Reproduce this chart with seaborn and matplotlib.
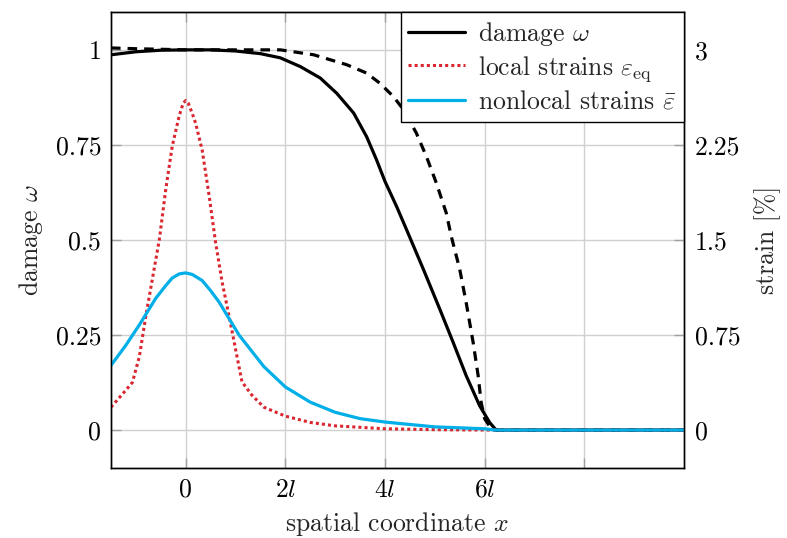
import matplotlib
matplotlib.use('Agg')
import matplotlib.pyplot as plt
import seaborn as sns

# Data (x in units of l)
x_dmg = [-1.5, -1.0, -0.5, 0.0, 0.5, 1.0, 1.5, 1.9, 2.3, 2.7, 3.03, 3.37, 3.63,
         3.83, 4.0, 4.23, 4.43, 4.77, 5.1, 5.37, 5.63, 5.9, 6.1, 6.23, 10.0]
damage = [0.987, 0.995, 0.999, 1.0, 1.0, 0.997, 0.99, 0.979, 0.956, 0.926, 0.886,
          0.834, 0.772, 0.711, 0.654, 0.589, 0.528, 0.423, 0.318, 0.23, 0.143,
          0.064, 0.02, 0.0, 0.0]

x_dmg2 = [-1.5, -1.0, 0.0, 1.0, 1.9, 2.57, 3.23, 3.63, 3.9, 4.17, 4.37, 4.63, 4.83,
          5.03, 5.23, 5.33, 5.5, 5.63, 5.77, 5.87, 5.93, 6.0, 6.1, 6.2, 10.0]
damage2 = [1.005, 1.003, 1.0, 1.0, 1.0, 0.987, 0.961, 0.939, 0.912, 0.877, 0.843,
           0.781, 0.72, 0.65, 0.571, 0.51, 0.423, 0.335, 0.23, 0.143, 0.073, 0.03,
           0.01, 0.0, 0.0]

x_loc = [-1.5, -1.3, -1.07, -0.93, -0.8, -0.67, -0.53, -0.4, -0.27, -0.13, -0.05,
         0.0, 0.05, 0.13, 0.2, 0.33, 0.47, 0.6, 0.73, 0.87, 1.0, 1.13, 1.33, 1.57,
         2.0, 2.5, 3.0, 4.0, 5.0, 6.0, 10.0]
local_strain = [0.18, 0.27, 0.375, 0.58, 0.9, 1.19, 1.5, 1.9, 2.24, 2.48, 2.58,
                2.6, 2.58, 2.5, 2.42, 2.21, 1.85, 1.48, 1.17, 0.9, 0.64, 0.38,
                0.275, 0.18, 0.11, 0.06, 0.033, 0.01, 0.003, 0.0, 0.0]

x_nl = [-1.5, -1.2, -0.93, -0.6, -0.4, -0.27, -0.13, 0.0, 0.13, 0.33, 0.5, 0.67,
        1.07, 1.57, 2.0, 2.5, 3.0, 3.5, 4.0, 5.0, 6.0, 6.2, 10.0]
nonlocal_strain = [0.51, 0.67, 0.83, 1.04, 1.14, 1.2, 1.232, 1.24, 1.228, 1.18,
                   1.1, 1.01, 0.75, 0.5, 0.34, 0.22, 0.14, 0.09, 0.063, 0.025,
                   0.01, 0.0, 0.0]

x_ticks = [0, 2, 4, 6, 8]
x_ticklabels = ['0', '$2l$', '$4l$', '$6l$', '']
y_ticks = [0, 0.25, 0.5, 0.75, 1]
y_ticklabels = ['0', '0.25', '0.5', '0.75', '1']
y2_ticks = [0, 0.75, 1.5, 2.25, 3]
y2_ticklabels = ['0', '0.75', '1.5', '2.25', '3']

sns.set_theme(style="whitegrid")
plt.rcParams.update({
    'font.family': 'serif',
    'font.serif': ['cmr10'],
    'mathtext.fontset': 'cm',
    'axes.formatter.use_mathtext': True,
    'axes.edgecolor': 'black',
    'axes.linewidth': 1.0,
    'grid.color': '#d0d0d0',
    'grid.linewidth': 1.0,
})

fs = 18.5
red = '#d9262f'
cyan = '#00aee8'

fig = plt.figure(figsize=(7.87, 5.38), dpi=100)
ax = fig.add_axes([0.141, 0.130, 0.728, 0.848])

sns.lineplot(x=x_dmg, y=damage, ax=ax, color='black', lw=2.3, label=r'damage $\omega$')
sns.lineplot(x=x_dmg2, y=damage2, ax=ax, color='black', lw=2.3, linestyle=(0, (3.0, 2.2)))
ax.set_xlim(-1.5, 10)
ax.set_ylim(-0.1, 1.1)
ax.set_xticks(x_ticks)
ax.set_xticklabels(x_ticklabels)
ax.set_yticks(y_ticks)
ax.set_yticklabels(y_ticklabels)
ax.set_xlabel(r'spatial coordinate $x$', fontsize=fs, labelpad=6)
ax.set_ylabel(r'damage $\omega$', fontsize=fs, labelpad=8)
ax.tick_params(axis='both', direction='in', length=7, width=1, color='#a0a0a0',
               labelsize=fs, labelcolor='black', top=True, left=True, bottom=True, pad=7)
ax.grid(True)

ax2 = ax.twinx()
sns.lineplot(x=x_loc, y=local_strain, ax=ax2, color=red, lw=2.2, linestyle=(0, (1, 1)),
             label=r'local strains $\varepsilon_{\mathrm{eq}}$')
sns.lineplot(x=x_nl, y=nonlocal_strain, ax=ax2, color=cyan, lw=2.3,
             label=r'nonlocal strains $\bar{\varepsilon}$')
ax2.set_ylim(-0.3, 3.3)
ax2.set_yticks(y2_ticks)
ax2.set_yticklabels(y2_ticklabels)
ax2.set_ylabel('strain [%]', fontsize=fs, labelpad=10)
ax2.tick_params(axis='y', direction='in', length=7, width=1, color='#a0a0a0',
                labelsize=fs, labelcolor='black', right=True, pad=8)
ax2.grid(False)

h1, l1 = ax.get_legend_handles_labels()
h2, l2 = ax2.get_legend_handles_labels()
if ax.get_legend() is not None:
    ax.get_legend().remove()
leg = ax2.legend(h1 + h2, l1 + l2, loc='upper right', fontsize=fs, frameon=True,
                 fancybox=False, framealpha=1, edgecolor='black', borderaxespad=0,
                 handlelength=2.2, labelspacing=0.25, borderpad=0.3, handletextpad=0.5)
leg.get_frame().set_linewidth(1.0)

fig.savefig('out.png', dpi=100)
